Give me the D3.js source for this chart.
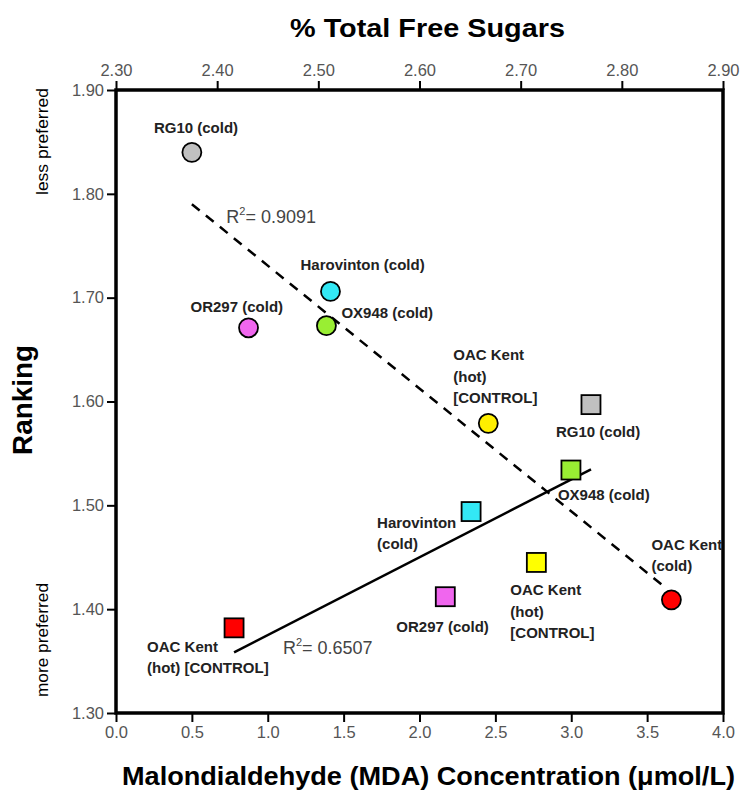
<!DOCTYPE html>
<html>
<head>
<meta charset="utf-8">
<script src="https://cdn.jsdelivr.net/npm/d3@7"></script>
<style>
  body { margin: 0; background: #fff; }
  text { font-family: "Liberation Sans", Arial, sans-serif; }
</style>
</head>
<body>
<div id="chart"></div>
<script>
// circles: % total free sugars (top axis) vs ranking
const sugarNames = ['RG10 (cold)', 'Harovinton (cold)', 'OR297 (cold)', 'OX948 (cold)', 'OAC Kent hot', 'OAC Kent cold'];
const sugarValues = [2.375, 2.512, 2.431, 2.508, 2.668, 2.849];
const sugarRanking = [1.840, 1.706, 1.671, 1.673, 1.579, 1.409];
const sugarColors = ['#c0c0c0', '#33e8f5', '#f066ee', '#99ee33', '#ffef00', '#ff0000'];

// squares: MDA concentration (bottom axis) vs ranking
const mdaNames = ['RG10 (cold)', 'OX948 (cold)', 'Harovinton (cold)', 'OAC Kent hot', 'OR297 (cold)', 'OAC Kent hot red'];
const mdaValues = [3.13, 2.998, 2.34, 2.77, 2.17, 0.778];
const mdaRanking = [1.597, 1.534, 1.494, 1.445, 1.412, 1.382];
const mdaColors = ['#c0c0c0', '#99ee33', '#33e8f5', '#ffff00', '#f066ee', '#ff0000'];

const topTicks = [2.30, 2.40, 2.50, 2.60, 2.70, 2.80, 2.90];
const bottomTicks = [0.0, 0.5, 1.0, 1.5, 2.0, 2.5, 3.0, 3.5, 4.0];
const yTicks = [1.30, 1.40, 1.50, 1.60, 1.70, 1.80, 1.90];

const r2Sugar = '0.9091';
const r2Mda = '0.6507';

const W = 745, H = 790;
const margin = { left: 116, top: 90, right: 22, bottom: 77 };

const svg = d3.select('#chart').append('svg')
    .attr('width', W)
    .attr('height', H);

const x1 = d3.scaleLinear().domain([0, 4]).range([margin.left, W - margin.right]);
const x2 = d3.scaleLinear().domain([2.30, 2.90]).range([margin.left, W - margin.right]);
const y = d3.scaleLinear().domain([1.30, 1.90]).range([H - margin.bottom, margin.top]);

// simple least squares
function fit(xs, ys) {
    const mx = d3.mean(xs), my = d3.mean(ys);
    let sxy = 0, sxx = 0;
    xs.forEach((v, i) => { sxy += (v - mx) * (ys[i] - my); sxx += (v - mx) * (v - mx); });
    const b = sxy / sxx;
    return v => my + b * (v - mx);
}

// label placement (pixels from the mark)
const sugarLabels = [
    { lines: ['RG10 (cold)'], dx: -38, dy: -19 },
    { lines: ['Harovinton (cold)'], dx: -30, dy: -21 },
    { lines: ['OR297 (cold)'], dx: -58, dy: -16 },
    { lines: ['OX948 (cold)'], dx: 15, dy: -8 },
    { lines: ['OAC Kent', '(hot)', '[CONTROL]'], dx: -35, dy: -63 },
    { lines: ['OAC Kent', '(cold)'], dx: -20, dy: -50 }
];
const mdaLabels = [
    { lines: ['RG10 (cold)'], dx: -35, dy: 32 },
    { lines: ['OX948 (cold)'], dx: -13, dy: 30 },
    { lines: ['Harovinton', '(cold)'], dx: -94, dy: 16 },
    { lines: ['OAC Kent', '(hot)', '[CONTROL]'], dx: -26, dy: 33 },
    { lines: ['OR297 (cold)'], dx: -49, dy: 35 },
    { lines: ['OAC Kent', '(hot) [CONTROL]'], dx: -87, dy: 24 }
];

// regression lines
const fs = fit(sugarValues, sugarRanking);
const fm = fit(mdaValues, mdaRanking);
const sx = d3.extent(sugarValues), mx = d3.extent(mdaValues);

svg.append('line')
    .attr('x1', x2(sx[0])).attr('y1', y(fs(sx[0])))
    .attr('x2', x2(sx[1]) - 10).attr('y2', y(fs(x2.invert(x2(sx[1]) - 10))))
    .attr('stroke', '#000').attr('stroke-width', 2.5)
    .attr('stroke-dasharray', '10,8');

svg.append('line')
    .attr('x1', x1(mx[0])).attr('y1', y(fm(mx[0])))
    .attr('x2', x1(mx[1])).attr('y2', y(fm(mx[1])))
    .attr('stroke', '#000').attr('stroke-width', 2.5);

// R² annotations
function r2(xp, yp, val) {
    const t = svg.append('text').attr('x', xp).attr('y', yp)
        .attr('font-size', 18).attr('fill', '#444');
    t.append('tspan').text('R');
    t.append('tspan').attr('font-size', 11).attr('dy', -8).text('2');
    t.append('tspan').attr('dy', 8).text('= ' + val);
}
r2(x2(2.409), y(1.772), r2Sugar);
r2(x1(1.10), y(1.357), r2Mda);

// axes
const tickFmt2 = d3.format('.2f');
const axisTop = d3.axisTop(x2).tickValues(topTicks).tickFormat(tickFmt2).tickSize(9).tickSizeOuter(0);
const axisBottom = d3.axisBottom(x1).tickValues(bottomTicks).tickFormat(d3.format('.1f')).tickSize(9).tickSizeOuter(0);
const axisLeft = d3.axisLeft(y).tickValues(yTicks).tickFormat(tickFmt2).tickSize(9).tickSizeOuter(0);

function style(g) {
    g.select('.domain').remove();
    g.selectAll('.tick line').attr('stroke', '#000').attr('stroke-width', 2);
    g.selectAll('.tick text').attr('fill', '#555').attr('font-size', 16.5)
        .attr('font-family', '"Liberation Sans", Arial, sans-serif');
}
svg.append('g').attr('transform', `translate(0,${margin.top})`).call(axisTop).call(style)
    .selectAll('.tick text').attr('dy', '-0.15em');
svg.append('g').attr('transform', `translate(0,${H - margin.bottom})`).call(axisBottom).call(style)
    .selectAll('.tick text').attr('dy', '0.8em');
svg.append('g').attr('transform', `translate(${margin.left},0)`).call(axisLeft).call(style)
    .selectAll('.tick text').attr('dx', '0em');

// frame
svg.append('rect')
    .attr('x', margin.left).attr('y', margin.top)
    .attr('width', W - margin.left - margin.right)
    .attr('height', H - margin.top - margin.bottom)
    .attr('fill', 'none').attr('stroke', '#000').attr('stroke-width', 3.5);

// point labels
function labels(data, xs, ys, sc) {
    data.forEach((d, i) => {
        const t = svg.append('text')
            .attr('x', sc(xs[i]) + d.dx)
            .attr('y', y(ys[i]) + d.dy)
            .attr('font-size', 15).attr('font-weight', 'bold').attr('fill', '#222');
        d.lines.forEach((l, j) => {
            t.append('tspan').attr('x', sc(xs[i]) + d.dx).attr('dy', j ? 21.5 : 0).text(l);
        });
    });
}
labels(sugarLabels, sugarValues, sugarRanking, x2);
labels(mdaLabels, mdaValues, mdaRanking, x1);

// markers
svg.append('g').selectAll('circle')
    .data(sugarValues)
    .enter().append('circle')
    .attr('cx', d => x2(d))
    .attr('cy', (d, i) => y(sugarRanking[i]))
    .attr('r', 9.5)
    .attr('fill', (d, i) => sugarColors[i])
    .attr('stroke', '#000').attr('stroke-width', 1.8);

svg.append('g').selectAll('rect')
    .data(mdaValues)
    .enter().append('rect')
    .attr('x', d => x1(d) - 9.5)
    .attr('y', (d, i) => y(mdaRanking[i]) - 9.5)
    .attr('width', 19).attr('height', 19)
    .attr('fill', (d, i) => mdaColors[i])
    .attr('stroke', '#000').attr('stroke-width', 1.8);

// titles
svg.append('text')
    .attr('x', 290).attr('y', 37)
    .attr('font-size', 26).attr('font-weight', 'bold')
    .attr('textLength', 275).attr('lengthAdjust', 'spacingAndGlyphs')
    .text('% Total Free Sugars');

svg.append('text')
    .attr('x', 122).attr('y', 785)
    .attr('font-size', 26).attr('font-weight', 'bold')
    .attr('textLength', 613).attr('lengthAdjust', 'spacingAndGlyphs')
    .text('Malondialdehyde (MDA) Concentration (\u03bcmol/L)');

svg.append('text')
    .attr('transform', 'translate(32,455) rotate(-90)')
    .attr('font-size', 27).attr('font-weight', 'bold')
    .attr('textLength', 110).attr('lengthAdjust', 'spacingAndGlyphs')
    .text('Ranking');

svg.append('text')
    .attr('transform', 'translate(48,195) rotate(-90)')
    .attr('font-size', 17)
    .attr('textLength', 107).attr('lengthAdjust', 'spacingAndGlyphs')
    .text('less preferred');

svg.append('text')
    .attr('transform', 'translate(48,697) rotate(-90)')
    .attr('font-size', 17)
    .attr('textLength', 114).attr('lengthAdjust', 'spacingAndGlyphs')
    .text('more preferred');
</script>
</body>
</html>
